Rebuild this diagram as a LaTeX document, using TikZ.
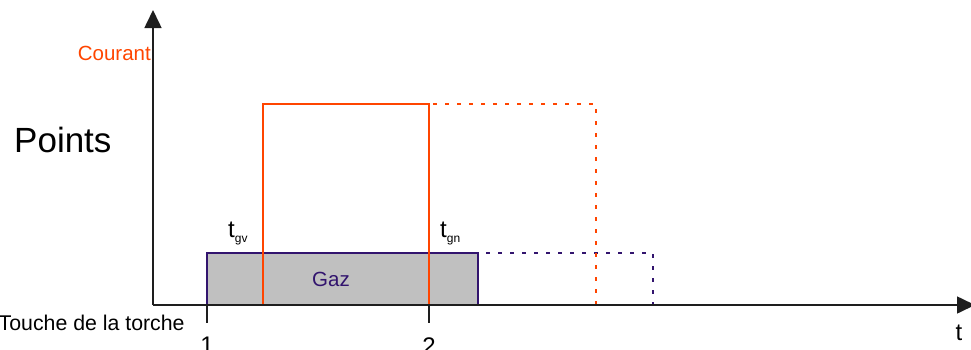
\documentclass[tikz,border=0pt]{standalone}
\usepackage{fontspec}
\setmainfont{Liberation Sans}
\usetikzlibrary{arrows.meta}
\definecolor{cred}{RGB}{255,69,0}
\definecolor{cpur}{RGB}{50,20,110}
\definecolor{cgray}{RGB}{192,192,192}
\definecolor{cblack}{RGB}{30,30,30}
\tikzset{
  axis/.style={line width=1.6pt, draw=cblack, -{Triangle[length=18pt,width=17pt]}},
  redline/.style={draw=cred, line width=1.5pt},
  reddash/.style={draw=cred, line width=1.5pt, dash pattern=on 4pt off 8pt},
  purline/.style={draw=cpur, line width=1.5pt},
  purdash/.style={draw=cpur, line width=1.5pt, dash pattern=on 4pt off 8pt},
  lbl/.style={inner sep=0pt, font=\fontsize{20.5}{20.5}\selectfont},
  big/.style={inner sep=0pt, font=\fontsize{24}{24}\selectfont},
}
\newcommand{\subtxt}[1]{\raisebox{-5pt}{\fontsize{12}{12}\selectfont #1}}
\begin{document}
\begin{tikzpicture}[x=1pt,y=-1pt]
\useasboundingbox (0,0) rectangle (971,349);
% gas area
\fill[cgray] (207,253) rectangle (478,305);
\draw[purline] (207,305) -- (207,253) -- (478,253) -- (478,305);
% dashed continuations
\draw[purdash] (486,253) -- (653,253) -- (653,305);
\draw[reddash] (433,104) -- (596,104) -- (596,305);
% current rectangle
\draw[redline] (263,305) -- (263,104) -- (429,104) -- (429,305);
% axes
\coordinate (O) at (153,305);
\coordinate (Ytop) at (153,10);
\coordinate (Xend) at (975,305);
\draw[axis] (O) -- (Ytop);
\draw[axis] (O) -- (Xend);
% ticks
\coordinate (t1a) at (207,305); \coordinate (t1b) at (207,323);
\coordinate (t2a) at (429,305); \coordinate (t2b) at (429,323);
\draw[line width=1.3pt, draw=cblack] (t1a) -- (t1b) (t2a) -- (t2b);
% labels
\node[lbl, text=cred, anchor=east] (cour) at (151,53) {Courant};
\node[inner sep=0pt, font=\fontsize{35}{35}\selectfont, anchor=west] (pts) at (14,140) {Points};
\node[lbl, text=cpur] (gaz) at (331,279) {Gaz};
\node[inner sep=0pt, font=\fontsize{21.3}{21.3}\selectfont, anchor=west] (touche) at (-1.5,323) {Touche de la torche};
\node[big, anchor=base] (one) at (207,353) {1};
\node[big, anchor=base] (two) at (429,354) {2};
\node[big] (tt) at (959,333) {t};
\node[big, anchor=base west] (tgv) at (228,237) {t\subtxt{gv}};
\node[big, anchor=base west] (tgn) at (440,237) {t\subtxt{gn}};
\end{tikzpicture}
\end{document}
